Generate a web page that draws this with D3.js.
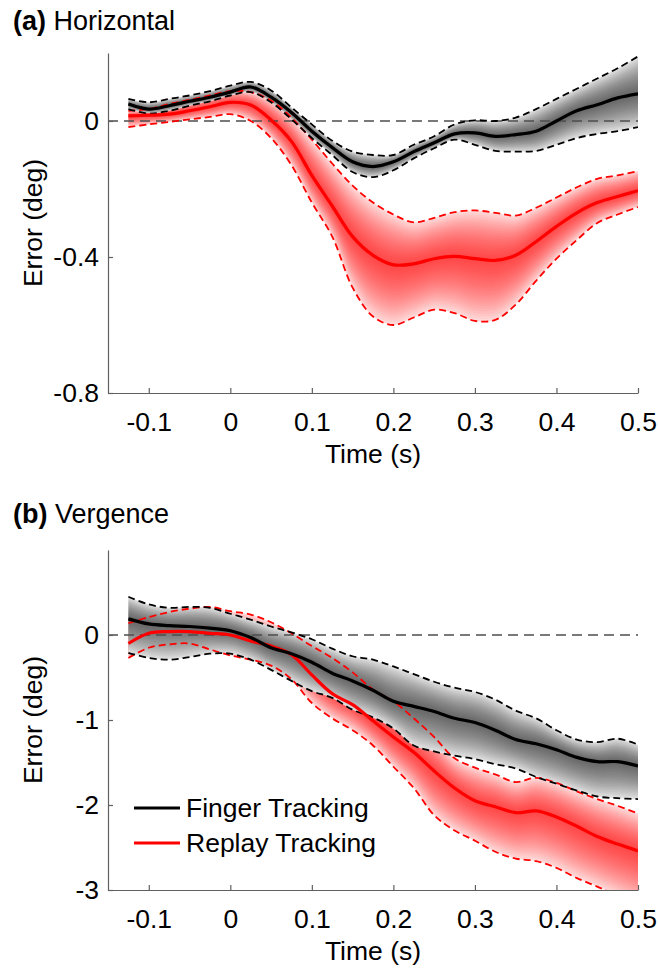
<!DOCTYPE html>
<html>
<head>
<meta charset="utf-8">
<script src="https://cdn.jsdelivr.net/npm/d3@7"></script>
<style>
  body { margin: 0; background: #fff; }
  svg text { font-family: "Liberation Sans", Arial, Helvetica, sans-serif; fill: #000; }
</style>
</head>
<body>
<svg id="fig" width="658" height="971"></svg>
<script>
/* Data (s, deg) */
var time = [-0.125, -0.1, -0.075, -0.05, -0.025, 0, 0.025, 0.05, 0.075, 0.1, 0.125, 0.15, 0.175,
            0.2, 0.225, 0.25, 0.275, 0.3, 0.325, 0.35, 0.375, 0.4, 0.425, 0.45, 0.475, 0.5];

// (a) Horizontal
var fingerH   = [0.05, 0.035, 0.045, 0.058, 0.07, 0.085, 0.1, 0.07, 0.025, -0.03, -0.078, -0.12, -0.134,
                 -0.12, -0.09, -0.064, -0.038, -0.035, -0.045, -0.04, -0.03, 0.0, 0.03, 0.048, 0.068, 0.08];
var fingerHUp = [0.065, 0.055, 0.065, 0.075, 0.088, 0.104, 0.115, 0.09, 0.04, -0.01, -0.058, -0.09, -0.1,
                 -0.1, -0.07, -0.045, -0.01, 0.002, 0.0, 0.01, 0.035, 0.065, 0.095, 0.125, 0.155, 0.19];
var fingerHLo = [0.035, 0.022, 0.03, 0.045, 0.058, 0.075, 0.085, 0.055, 0.005, -0.05, -0.1, -0.15, -0.165,
                 -0.145, -0.11, -0.08, -0.055, -0.07, -0.088, -0.09, -0.088, -0.07, -0.05, -0.038, -0.03, -0.018];
var replayH   = [0.015, 0.017, 0.02, 0.03, 0.042, 0.055, 0.047, 0.003, -0.06, -0.16, -0.25, -0.34, -0.395,
                 -0.423, -0.42, -0.405, -0.398, -0.405, -0.41, -0.395, -0.355, -0.31, -0.27, -0.24, -0.222, -0.205];
var replayHUp = [0.03, 0.035, 0.05, 0.062, 0.075, 0.088, 0.085, 0.06, 0.01, -0.055, -0.125, -0.19, -0.24,
                 -0.275, -0.298, -0.285, -0.268, -0.263, -0.27, -0.278, -0.255, -0.225, -0.195, -0.17, -0.16, -0.147];
var replayHLo = [-0.018, -0.01, -0.003, 0.005, 0.012, 0.02, 0.0, -0.05, -0.13, -0.24, -0.34, -0.49, -0.575,
                 -0.6, -0.578, -0.555, -0.565, -0.588, -0.585, -0.54, -0.47, -0.405, -0.35, -0.3, -0.275, -0.253];

// (b) Vergence
var fingerV   = [0.19, 0.13, 0.11, 0.1, 0.08, 0.05, -0.03, -0.15, -0.22, -0.32, -0.45, -0.54, -0.65,
                 -0.78, -0.84, -0.9, -0.98, -1.03, -1.12, -1.23, -1.28, -1.35, -1.44, -1.49, -1.49, -1.54];
var fingerVUp = [0.45, 0.36, 0.32, 0.33, 0.32, 0.25, 0.18, 0.1, 0.03, -0.05, -0.16, -0.25, -0.29,
                 -0.37, -0.46, -0.55, -0.62, -0.67, -0.76, -0.89, -0.98, -1.12, -1.23, -1.26, -1.22, -1.29];
var fingerVLo = [-0.21, -0.27, -0.29, -0.26, -0.22, -0.22, -0.29, -0.41, -0.54, -0.66, -0.74, -0.88, -0.97,
                 -1.1, -1.3, -1.37, -1.42, -1.46, -1.52, -1.57, -1.67, -1.75, -1.83, -1.9, -1.92, -1.93];
var replayV   = [-0.1, 0.02, 0.04, 0.04, 0.02, 0.0, -0.07, -0.13, -0.23, -0.47, -0.69, -0.82, -1.01,
                 -1.2, -1.38, -1.6, -1.8, -1.95, -2.02, -2.09, -2.07, -2.14, -2.25, -2.37, -2.46, -2.54];
var replayVUp = [0.14, 0.21, 0.27, 0.31, 0.33, 0.28, 0.24, 0.15, 0.02, -0.13, -0.27, -0.44, -0.64,
                 -0.78, -0.98, -1.2, -1.45, -1.56, -1.64, -1.73, -1.68, -1.74, -1.84, -1.93, -2.01, -2.1];
var replayVLo = [-0.27, -0.15, -0.11, -0.1, -0.17, -0.24, -0.29, -0.36, -0.52, -0.8, -0.98, -1.12, -1.3,
                 -1.55, -1.8, -2.12, -2.3, -2.42, -2.55, -2.63, -2.66, -2.74, -2.86, -2.96, -3.07, -3.17];

var ticksX = [-0.1, 0, 0.1, 0.2, 0.3, 0.4, 0.5];
var ticksH = [0, -0.4, -0.8];
var ticksV = [0, -1, -2, -3];
var legendNames = ['Finger Tracking', 'Replay Tracking'];

/* Drawing */
var svg = d3.select('#fig');
var FS = 26.5;
var curve = d3.curveCatmullRom.alpha(0.5);
var LAYERS = 24;

function drawBand(g, x, y, m, u, l, color, opaque) {
  var pts = time.map(function(t, i) { return {t: t, m: m[i], u: u[i], l: l[i]}; });
  var full = d3.area().curve(curve)
    .x(function(d) { return x(d.t); })
    .y0(function(d) { return y(d.l); })
    .y1(function(d) { return y(d.u); });
  if (opaque) g.append('path').datum(pts).attr('fill', '#fff').attr('d', full);
  // base tint, then nested layers darkening toward the mean
  g.append('path').datum(pts).attr('fill', color).attr('fill-opacity', 0.15).attr('d', full);
  for (var k = 1; k < LAYERS; k++) {
    var f = 1 - k / LAYERS;
    g.append('path').datum(pts)
      .attr('fill', color)
      .attr('fill-opacity', 0.045)
      .attr('d', d3.area().curve(curve)
        .x(function(d) { return x(d.t); })
        .y0(function(d) { return y(d.m + f * (d.l - d.m)); })
        .y1(function(d) { return y(d.m + f * (d.u - d.m)); }));
  }
}

function drawLine(g, x, y, vals, color, width, dash) {
  g.append('path').datum(vals)
    .attr('fill', 'none')
    .attr('stroke', color)
    .attr('stroke-width', width)
    .attr('stroke-dasharray', dash || null)
    .attr('stroke-linejoin', 'round')
    .attr('d', d3.line().curve(curve)
      .x(function(d, i) { return x(time[i]); })
      .y(function(d) { return y(d); }));
}

function fmt(d) { return d3.format('')(d).replace('\u2212', '-'); }

function panel(cfg) {
  var x = d3.scaleLinear().domain([-0.15, 0.5]).range([108, 638]);
  var y = d3.scaleLinear().domain(cfg.domain).range([cfg.bottom, cfg.top]);

  // title
  var tt = svg.append('text').attr('x', 13).attr('y', cfg.titleY).attr('font-size', 27);
  tt.append('tspan').attr('font-weight', 'bold').text(cfg.letter);
  tt.append('tspan').text(' ' + cfg.title);

  var clipId = 'clip' + cfg.letter.replace(/\W/g, '');
  svg.append('clipPath').attr('id', clipId).append('rect')
    .attr('x', x.range()[0]).attr('y', cfg.top)
    .attr('width', x.range()[1] - x.range()[0]).attr('height', cfg.bottom - cfg.top);

  var g = svg.append('g').attr('clip-path', 'url(#' + clipId + ')');

  drawBand(g, x, y, cfg.replay[0], cfg.replay[1], cfg.replay[2], '#ff0000', false);
  drawBand(g, x, y, cfg.finger[0], cfg.finger[1], cfg.finger[2], '#333333', true);

  // zero reference line
  g.append('line')
    .attr('x1', x.range()[0]).attr('x2', x.range()[1])
    .attr('y1', y(0)).attr('y2', y(0))
    .attr('stroke', '#4d4d4d').attr('stroke-width', 1.3)
    .attr('stroke-dasharray', '10,6');

  drawLine(g, x, y, cfg.replay[1], '#ff0000', 1.8, '7,4');
  drawLine(g, x, y, cfg.replay[2], '#ff0000', 1.8, '7,4');
  drawLine(g, x, y, cfg.finger[1], '#000', 1.8, '7,4');
  drawLine(g, x, y, cfg.finger[2], '#000', 1.8, '7,4');
  drawLine(g, x, y, cfg.replay[0], '#ff0000', 3.2);
  drawLine(g, x, y, cfg.finger[0], '#000', 3.2);

  // axes
  var ax = svg.append('g')
    .attr('transform', 'translate(0,' + cfg.bottom + ')')
    .call(d3.axisBottom(x).tickValues(ticksX).tickFormat(fmt).tickSizeInner(-5).tickSizeOuter(0).tickPadding(19.5));
  var ay = svg.append('g')
    .attr('transform', 'translate(' + x.range()[0] + ',0)')
    .call(d3.axisLeft(y).tickValues(cfg.ticks).tickFormat(fmt).tickSizeInner(-5).tickSizeOuter(0).tickPadding(9));
  [ax, ay].forEach(function(a) {
    a.selectAll('path, line').attr('stroke', '#606060').attr('stroke-width', 1.2);
    a.selectAll('text').attr('font-size', FS).attr('font-family', null);
  });

  svg.append('text')
    .attr('x', (x.range()[0] + x.range()[1]) / 2).attr('y', cfg.bottom + 70)
    .attr('text-anchor', 'middle').attr('font-size', FS)
    .text('Time (s)');
  svg.append('text')
    .attr('transform', 'translate(42,' + (cfg.top + cfg.bottom) / 2 + ') rotate(-90)')
    .attr('text-anchor', 'middle').attr('font-size', FS)
    .text('Error (deg)');

  if (cfg.legend) {
    var lg = svg.append('g');
    [['#000', 808], ['#ff0000', 843]].forEach(function(s, i) {
      lg.append('line').attr('x1', 134).attr('x2', 180).attr('y1', s[1]).attr('y2', s[1])
        .attr('stroke', s[0]).attr('stroke-width', 3.2);
      lg.append('text').attr('x', 186).attr('y', s[1] + 9).attr('font-size', FS).text(legendNames[i]);
    });
  }
}

panel({
  letter: '(a)', title: 'Horizontal', titleY: 30,
  top: 53, bottom: 393, domain: [-0.8, 0.2], ticks: ticksH,
  finger: [fingerH, fingerHUp, fingerHLo],
  replay: [replayH, replayHUp, replayHLo],
  legend: false
});

panel({
  letter: '(b)', title: 'Vergence', titleY: 523,
  top: 550, bottom: 890, domain: [-3, 1], ticks: ticksV,
  finger: [fingerV, fingerVUp, fingerVLo],
  replay: [replayV, replayVUp, replayVLo],
  legend: true
});
</script>
</body>
</html>
